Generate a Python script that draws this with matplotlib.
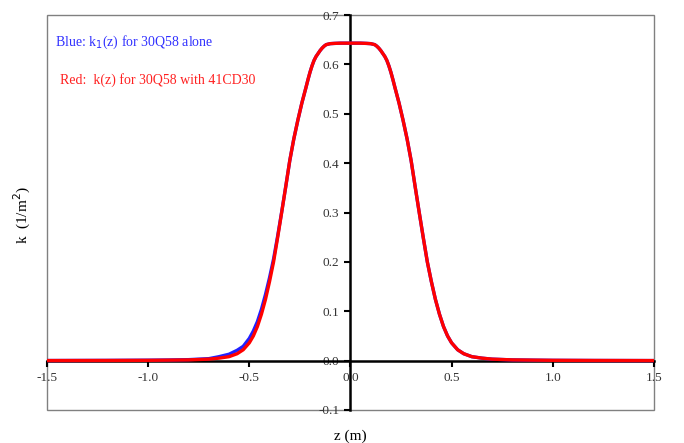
import matplotlib
matplotlib.use('Agg')
import matplotlib.pyplot as plt
from matplotlib.patches import Rectangle

plt.rcParams['font.family'] = ['Liberation Serif', 'DejaVu Serif']

# z positions (m)
z = [-1.5, -1.2, -1.0, -0.9, -0.8, -0.7, -0.65, -0.6, -0.56, -0.53, -0.5,
     -0.48, -0.46, -0.44, -0.42, -0.4, -0.38, -0.36, -0.34, -0.32, -0.3,
     -0.28, -0.26, -0.24, -0.22, -0.21, -0.2, -0.19, -0.18, -0.17, -0.16,
     -0.15, -0.14, -0.13, -0.12, -0.1, -0.08, -0.05, 0.0,
     0.05, 0.08, 0.1, 0.12, 0.13, 0.14, 0.15, 0.16, 0.17, 0.18, 0.19, 0.2,
     0.21, 0.22, 0.24, 0.26, 0.28, 0.3, 0.32, 0.34, 0.36, 0.38, 0.4, 0.42,
     0.44, 0.46, 0.48, 0.5, 0.53, 0.56, 0.6, 0.65, 0.7, 0.8, 0.9, 1.0, 1.2, 1.5]

# k(z) for 30Q58 with 41CD30 (red)
k_red = [0.0001, 0.0003, 0.0006, 0.001, 0.0015, 0.003, 0.005, 0.008, 0.014, 0.022, 0.036,
         0.050, 0.069, 0.094, 0.124, 0.160, 0.200, 0.249, 0.300, 0.352, 0.405,
         0.449, 0.487, 0.522, 0.553, 0.569, 0.584, 0.597, 0.608, 0.616, 0.622,
         0.628, 0.633, 0.637, 0.640, 0.642, 0.6425, 0.643, 0.643,
         0.643, 0.6425, 0.642, 0.640, 0.637, 0.633, 0.628, 0.622, 0.616, 0.608, 0.597, 0.584,
         0.569, 0.553, 0.522, 0.487, 0.449, 0.405, 0.352, 0.300, 0.249, 0.200, 0.160, 0.124,
         0.094, 0.069, 0.050, 0.036, 0.022, 0.014, 0.008, 0.005, 0.003, 0.0015, 0.001, 0.0006,
         0.0003, 0.0001]

# k1(z) for 30Q58 alone (blue)
k_blue = [0.0002, 0.0005, 0.0009, 0.0013, 0.002, 0.004, 0.008, 0.013, 0.021, 0.029, 0.045,
          0.060, 0.079, 0.104, 0.134, 0.168, 0.206, 0.252, 0.301, 0.352, 0.405,
          0.449, 0.487, 0.522, 0.553, 0.569, 0.584, 0.597, 0.608, 0.616, 0.622,
          0.628, 0.633, 0.637, 0.640, 0.642, 0.6425, 0.643, 0.643,
          0.643, 0.6425, 0.642, 0.640, 0.637, 0.633, 0.628, 0.622, 0.616, 0.608, 0.597, 0.584,
          0.569, 0.553, 0.522, 0.487, 0.449, 0.405, 0.352, 0.300, 0.249, 0.200, 0.160, 0.124,
          0.094, 0.069, 0.050, 0.036, 0.022, 0.014, 0.008, 0.005, 0.003, 0.0015, 0.001, 0.0006,
          0.0003, 0.0001]

xticks = [-1.5, -1.0, -0.5, 0.0, 0.5, 1.0, 1.5]
yticks = [-0.1, 0.0, 0.1, 0.2, 0.3, 0.4, 0.5, 0.6, 0.7]

fig = plt.figure(figsize=(6.84, 4.43), dpi=100)
ax = fig.add_axes([0.0687, 0.0745, 0.8873, 0.8916])

ax.plot(z, k_blue, color='#2020ff', lw=2.4, zorder=3)
ax.plot(z, k_red, color='#ff0000', lw=2.4, zorder=4)

ax.set_xlim(-1.5, 1.5)
ax.set_ylim(-0.1, 0.7)

# axes crossing at the origin
for side in ['left', 'bottom']:
    ax.spines[side].set_position(('data', 0))
    ax.spines[side].set_color('black')
    ax.spines[side].set_linewidth(1.8)
for side in ['top', 'right']:
    ax.spines[side].set_visible(False)
ax.add_patch(Rectangle((0, 0), 1, 1, transform=ax.transAxes, fill=False,
                       ec='#808080', lw=1, clip_on=False, zorder=1))

ax.set_xticks(xticks)
ax.set_yticks(yticks)
ax.set_xticklabels(['%.1f' % v for v in xticks])
ax.set_yticklabels(['%.1f' % v for v in yticks])
ax.tick_params(direction='out', length=4, width=1.5, labelsize=9.5, pad=4,
               colors='black', labelcolor='#333333')

fig.text(0.512, 0.016, 'z (m)', ha='center', va='center', fontsize=11)
fig.text(0.033, 0.515, 'k  (1/m$^2$)', ha='center', va='center', rotation=90, fontsize=11)

ax.text(0.013, 0.93, 'Blue: k$_1$(z) for 30Q58 alone', transform=ax.transAxes,
        color='#3030ff', fontsize=10, va='center')
ax.text(0.021, 0.835, 'Red:  k(z) for 30Q58 with 41CD30', transform=ax.transAxes,
        color='#ff2020', fontsize=10, va='center')

fig.savefig('out.png', dpi=100)
